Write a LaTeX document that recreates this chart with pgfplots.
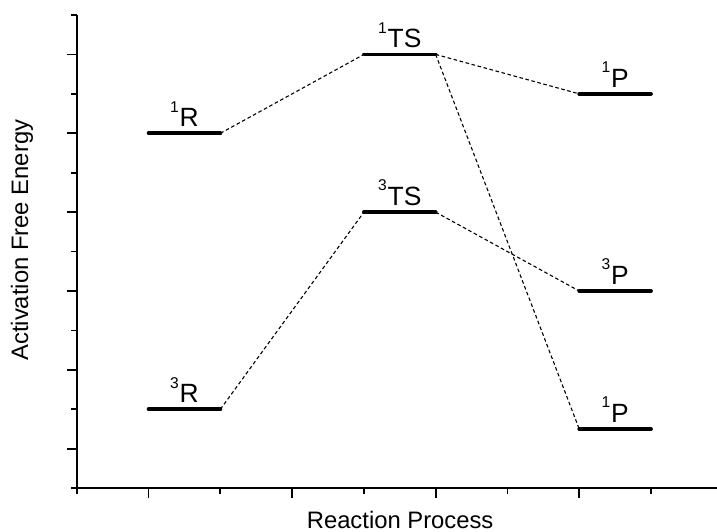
\documentclass[border=0pt]{standalone}
\usepackage{fontspec}
\setmainfont{Liberation Sans}
\usepackage{pgfplots}
\pgfplotsset{compat=1.18}
\newcommand\sps[1]{\raisebox{7.3pt}{\fontsize{7.8}{8}\selectfont #1}\kern0.4pt}
\begin{document}
\begin{tikzpicture}
\begin{axis}[
  at={(0,0)}, anchor=south west,
  scale only axis,
  width=320pt, height=236.5pt,
  xmin=0, xmax=8.92, ymin=0, ymax=12,
  enlargelimits=false, clip=false,
  axis x line*=bottom, axis y line*=left,
  axis line style={line width=0.9pt, black},
  tick align=outside,
  tick style={line width=0.9pt, black},
  major tick length=5pt, minor tick length=2.8pt,
  xtick={1,3,5,7}, minor xtick={0,2,4,6,8},
  ytick={1,3,5,7,9,11}, minor ytick={0,2,4,6,8,10,12},
  xticklabels={}, yticklabels={},
  xlabel={Reaction Process},
  ylabel={Activation Free Energy},
  xlabel style={at={(axis description cs:0.505,-0.0846)}, anchor=base, font=\fontsize{11.9}{13}\selectfont},
  ylabel style={at={(axis description cs:-0.0856,0.524)}, anchor=center, rotate=0, font=\fontsize{11.9}{13}\selectfont},
]
% dashed connectors
\addplot[black, line width=0.55pt, dash pattern=on 1.8pt off 1.3pt] coordinates {(2,9) (4,11)};
\addplot[black, line width=0.55pt, dash pattern=on 1.8pt off 1.3pt] coordinates {(5,11) (7,10)};
\addplot[black, line width=0.55pt, dash pattern=on 1.8pt off 1.3pt] coordinates {(5,11) (7,1.5)};
\addplot[black, line width=0.55pt, dash pattern=on 1.8pt off 1.3pt] coordinates {(2,2) (4,7)};
\addplot[black, line width=0.55pt, dash pattern=on 1.8pt off 1.3pt] coordinates {(5,7) (7,5)};
% levels
\tikzset{lvl/.style={black, line width=1.9pt, line cap=round}, lab/.style={pos=0.5, anchor=base, yshift=3.3pt, inner sep=0pt, font=\fontsize{13.2}{15}\selectfont}}
\addplot[lvl] coordinates {(1,9) (2,9)} node[lab] {\sps{1}R};
\addplot[lvl] coordinates {(1,2) (2,2)} node[lab] {\sps{3}R};
\addplot[lvl] coordinates {(4,11) (5,11)} node[lab] {\sps{1}TS};
\addplot[lvl] coordinates {(4,7) (5,7)} node[lab] {\sps{3}TS};
\addplot[lvl] coordinates {(7,10) (8,10)} node[lab] {\sps{1}P};
\addplot[lvl] coordinates {(7,5) (8,5)} node[lab] {\sps{3}P};
\addplot[lvl] coordinates {(7,1.5) (8,1.5)} node[lab] {\sps{1}P};
\end{axis}
\pgfresetboundingbox
\path[use as bounding box] (-38.4pt,-21.5pt) rectangle (320pt,244pt);
\end{tikzpicture}
\end{document}
